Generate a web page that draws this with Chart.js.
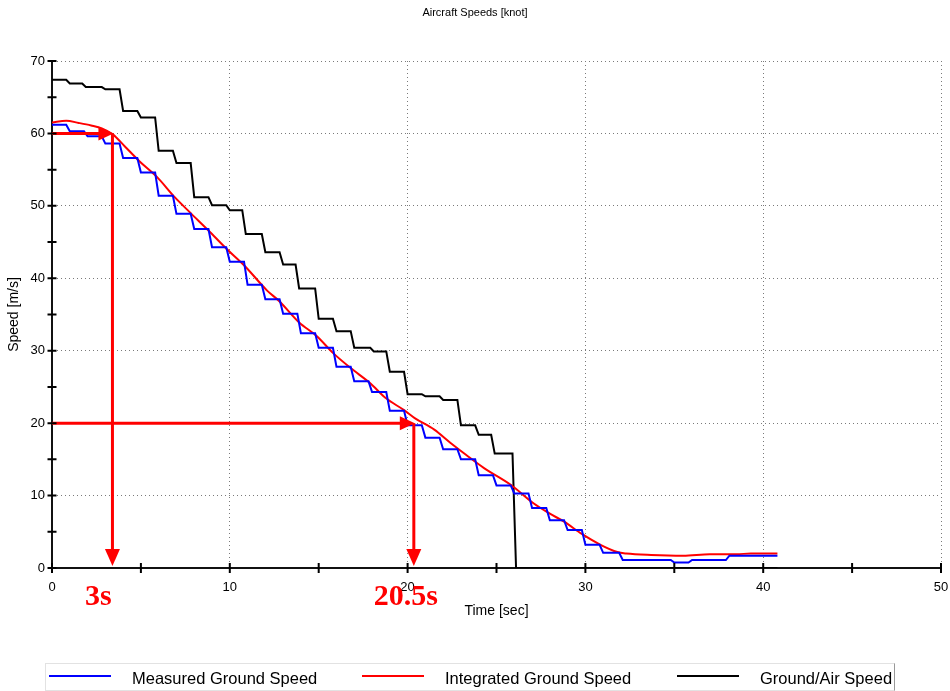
<!DOCTYPE html>
<html>
<head>
<meta charset="utf-8">
<script src="https://cdn.jsdelivr.net/npm/chart.js@4.4.0/dist/chart.umd.min.js"></script>
<style>
  body { margin: 0; background: #fff; }
  #wrap { width: 950px; height: 691px; }
</style>
</head>
<body>
<div id="wrap"><canvas id="myChart"></canvas></div>
<script>
// Measured ground speed: time where each step starts, and its value
var measuredStepTimes = [0, 0.8, 1.8, 2.8, 3.8, 4.8, 5.8, 6.8, 7.8, 8.8, 9.8, 10.8, 11.8, 12.8, 13.8,
  14.8, 15.8, 16.8, 17.8, 18.8, 19.8, 20.8, 21.8, 22.8, 23.8, 24.8, 25.8, 26.8, 27.8, 28.8,
  29.8, 30.8, 31.9, 34.8, 35.8, 37.9];
var measuredStepSpeeds = [61.2, 60.3, 59.6, 58.6, 56.6, 54.6, 51.4, 48.9, 46.8, 44.3, 42.3, 39.1, 37.1, 35.1, 32.4,
  30.4, 27.8, 25.8, 24.3, 21.7, 19.7, 18.0, 16.4, 15.0, 12.8, 11.4, 10.3, 8.3, 6.6, 5.25,
  3.2, 2.1, 1.1, 0.75, 1.1, 1.7];

// Ground/Air speed steps
var groundAirStepTimes = [0, 0.8, 1.7, 2.8, 3.8, 4.8, 5.8, 6.8, 7.8, 8.8, 9.8, 10.7, 11.8, 12.8,
  13.7, 14.8, 15.8, 16.8, 17.9, 18.8, 19.8, 20.8, 21.8, 22.8, 23.8, 24.7, 25.9];
var groundAirStepSpeeds = [67.4, 66.9, 66.4, 66.1, 63.1, 62.2, 57.6, 55.9, 51.2, 50.1, 49.4, 46.1, 43.6, 41.9,
  38.6, 34.4, 32.7, 30.4, 29.9, 27.1, 24.0, 23.7, 23.2, 19.7, 18.4, 15.8, 0];

var seriesEndTime = 40.8;

// Integrated ground speed (smooth curve)
var integratedTimes = [0, 0.8, 1.5, 2.2, 2.8, 3.4, 4.1, 4.9, 5.9, 6.9, 7.8, 8.8, 9.8, 10.8, 12.1, 12.8,
  13.9, 14.9, 15.8, 16.8, 17.9, 18.75, 19.8, 20.4, 21.5, 22.4, 23.3, 24.3, 25.8, 27.1, 28.0,
  28.8, 29.8, 30.85, 31.8, 32.3, 33.7, 35.5, 37.0, 38.5, 39.3, 40.8];
var integratedSpeeds = [61.5, 61.75, 61.45, 61.1, 60.7, 59.9, 58.2, 56.2, 54.0, 51.2, 49.0, 46.6, 44.1, 41.8, 38.3, 36.8,
  33.9, 32.0, 29.7, 27.6, 25.5, 23.5, 21.8, 20.7, 19.1, 17.3, 15.6, 13.8, 11.5, 8.9, 7.5,
  6.4, 4.7, 3.2, 2.2, 2.0, 1.8, 1.7, 1.9, 1.9, 2.0, 2.0];

// Annotation arrows
var arrowTimes = [3.4, 20.35];
var arrowSpeeds = [60, 20];
var arrowLabels = ["3s", "20.5s"];
var arrowLabelTimes = [2.6, 19.9];

var seriesLabels = ["Measured Ground Speed", "Integrated Ground Speed", "Ground/Air Speed"];
var seriesColors = ["#0000ff", "#ff0000", "#000000"];

var FONT = "'Liberation Sans', Arial, sans-serif";

// steps with a short ramp between levels
function stepPoints(times, speeds, end) {
  var pts = [];
  for (var i = 0; i < times.length; i++) {
    var x0 = i == 0 ? times[i] : times[i] + 0.2;
    var x1 = i + 1 < times.length ? times[i + 1] : end;
    pts.push({x: x0, y: speeds[i]});
    pts.push({x: x1, y: speeds[i]});
  }
  return pts;
}

var integratedPts = [];
for (var i = 0; i < integratedTimes.length; i++) {
  integratedPts.push({x: integratedTimes[i], y: integratedSpeeds[i]});
}

// tick marks crossing the axes every 5 units
var crossTicks = {
  id: 'crossTicks',
  afterDraw: function(chart) {
    var ctx = chart.ctx, xs = chart.scales.x, ys = chart.scales.y;
    ctx.save();
    ctx.strokeStyle = '#000';
    ctx.lineWidth = 2;
    ctx.beginPath();
    for (var v = 0; v <= 50; v += 5) {
      var px = xs.getPixelForValue(v);
      ctx.moveTo(px, ys.bottom - 5);
      ctx.lineTo(px, ys.bottom + 5);
    }
    for (var w = 0; w <= 70; w += 5) {
      var py = ys.getPixelForValue(w);
      ctx.moveTo(xs.left - 4.5, py);
      ctx.lineTo(xs.left + 4.5, py);
    }
    ctx.stroke();
    ctx.restore();
  }
};

// red arrows and their labels
var arrows = {
  id: 'arrows',
  afterDatasetsDraw: function(chart) {
    var ctx = chart.ctx, xs = chart.scales.x, ys = chart.scales.y;
    ctx.save();
    ctx.strokeStyle = '#ff0000';
    ctx.fillStyle = '#ff0000';
    ctx.lineWidth = 3;
    for (var i = 0; i < arrowTimes.length; i++) {
      var px = xs.getPixelForValue(arrowTimes[i]);
      var py = ys.getPixelForValue(arrowSpeeds[i]);
      var p0 = ys.getPixelForValue(0) - 2;
      // horizontal
      ctx.beginPath();
      ctx.moveTo(xs.left, py);
      ctx.lineTo(px - 10, py);
      ctx.stroke();
      ctx.beginPath();
      ctx.moveTo(px + 1, py);
      ctx.lineTo(px - 14, py - 7);
      ctx.lineTo(px - 14, py + 7);
      ctx.closePath();
      ctx.fill();
      // vertical
      ctx.beginPath();
      ctx.moveTo(px, py);
      ctx.lineTo(px, p0 - 12);
      ctx.stroke();
      ctx.beginPath();
      ctx.moveTo(px, p0);
      ctx.lineTo(px - 7.5, p0 - 17);
      ctx.lineTo(px + 7.5, p0 - 17);
      ctx.closePath();
      ctx.fill();
      // label
      ctx.font = "bold 30px 'Liberation Serif', 'Times New Roman', serif";
      ctx.textAlign = 'center';
      ctx.textBaseline = 'alphabetic';
      ctx.fillText(arrowLabels[i], xs.getPixelForValue(arrowLabelTimes[i]), ys.bottom + 37);
    }
    ctx.restore();
  }
};

// boxed legend at the bottom
var boxLegend = {
  id: 'boxLegend',
  afterDraw: function(chart) {
    var ctx = chart.ctx;
    var top = 663, bottom = 690, left = 45, right = 894;
    var itemX = [49, 362, 677];
    ctx.save();
    ctx.fillStyle = '#fff';
    ctx.fillRect(left, top, right - left, bottom - top);
    ctx.lineWidth = 1;
    ctx.strokeStyle = '#e2e2e2';
    ctx.strokeRect(left + 0.5, top + 0.5, right - left, bottom - top);
    ctx.strokeStyle = '#999';
    ctx.beginPath();
    ctx.moveTo(right + 0.5, top + 0.5);
    ctx.lineTo(right + 0.5, bottom + 0.5);
    ctx.stroke();
    ctx.font = '16.5px ' + FONT;
    ctx.textBaseline = 'alphabetic';
    ctx.textAlign = 'left';
    chart.data.datasets.forEach(function(ds, i) {
      ctx.strokeStyle = ds.borderColor;
      ctx.lineWidth = 2;
      ctx.beginPath();
      ctx.moveTo(itemX[i], 676);
      ctx.lineTo(itemX[i] + 62, 676);
      ctx.stroke();
      ctx.fillStyle = '#000';
      ctx.fillText(ds.label, itemX[i] + 83, 684);
    });
    ctx.restore();
  }
};

var ctx = document.getElementById("myChart");

var myChart = new Chart(ctx, {
  type: 'line',
  data: {
    datasets: [{
      label: seriesLabels[0],
      data: stepPoints(measuredStepTimes, measuredStepSpeeds, seriesEndTime),
      borderColor: seriesColors[0],
      borderWidth: 2,
      pointRadius: 0,
      tension: 0
    }, {
      label: seriesLabels[1],
      data: integratedPts,
      borderColor: seriesColors[1],
      borderWidth: 2,
      pointRadius: 0,
      cubicInterpolationMode: 'monotone'
    }, {
      label: seriesLabels[2],
      data: stepPoints(groundAirStepTimes, groundAirStepSpeeds, seriesEndTime),
      borderColor: seriesColors[2],
      borderWidth: 2,
      pointRadius: 0,
      tension: 0
    }]
  },
  options: {
    responsive: true,
    maintainAspectRatio: false,
    animation: false,
    layout: { padding: { top: 0, right: 0, bottom: 60, left: 0 } },
    plugins: {
      legend: { display: false },
      tooltip: { enabled: false },
      title: {
        display: true,
        text: 'Aircraft Speeds [knot]',
        color: '#000',
        font: { family: FONT, size: 11, weight: 'normal' },
        padding: { top: 6, bottom: 41.8 }
      }
    },
    scales: {
      x: {
        type: 'linear',
        min: 0,
        max: 50,
        ticks: { stepSize: 10, padding: 12, color: '#000', font: { family: FONT, size: 13 } },
        grid: {
          color: function(c) { return c.tick && c.tick.value === 0 ? 'rgba(0,0,0,0)' : '#7a7a7a'; },
          drawTicks: false,
          lineWidth: 1
        },
        border: { color: '#111', width: 2, dash: [1, 3] },
        title: { display: true, text: 'Time [sec]', color: '#000', font: { family: FONT, size: 14 }, padding: { top: 0, bottom: 11.6 } },
        afterFit: function(s) { s.height = 63; s.paddingRight = 9; s.paddingLeft = 0; }
      },
      y: {
        min: 0,
        max: 70,
        ticks: { stepSize: 10, padding: 7, color: '#000', font: { family: FONT, size: 13 } },
        grid: {
          color: function(c) { return c.tick && c.tick.value === 0 ? 'rgba(0,0,0,0)' : '#7a7a7a'; },
          drawTicks: false,
          lineWidth: 1
        },
        border: { color: '#111', width: 2, dash: [1, 3] },
        title: { display: true, text: 'Speed [m/s]', color: '#000', font: { family: FONT, size: 14 }, padding: { top: 5.6, bottom: 0 } },
        afterFit: function(s) { s.width = 52; }
      }
    }
  },
  plugins: [crossTicks, arrows, boxLegend]
});
</script>
</body>
</html>
